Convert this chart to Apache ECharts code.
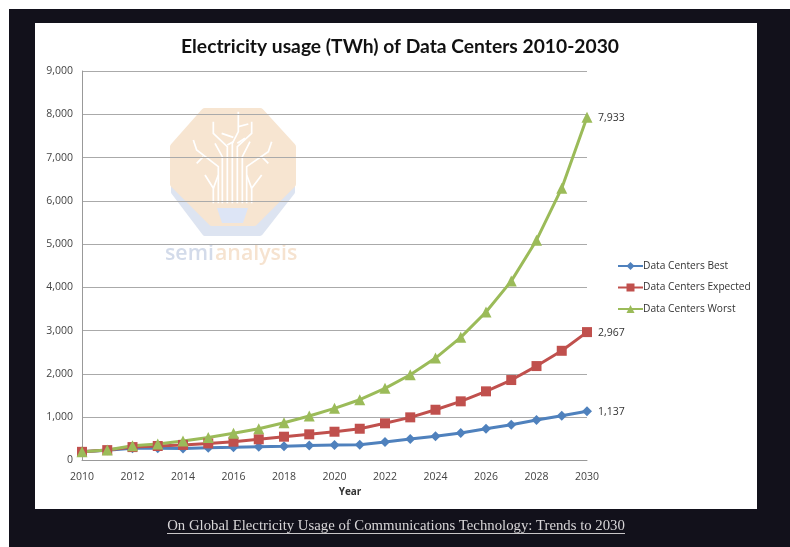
<!DOCTYPE html>
<html><head><meta charset="utf-8">
<style>html,body{margin:0;padding:0;background:#fff}#c{width:790px;height:547px}</style>
<script src="https://cdn.jsdelivr.net/npm/echarts@6/dist/echarts.min.js"></script>
</head><body><div id="c"></div>
<script>
const years = ['2010','2011','2012','2013','2014','2015','2016','2017','2018','2019','2020','2021','2022','2023','2024','2025','2026','2027','2028','2029','2030'];
const best = [200,235,285,285,280,295,305,318,328,345,358,365,427,497,558,635,734,827,935,1035,1137];
const expected = [200,240,310,335,360,395,434,490,550,605,665,734,859,997,1173,1367,1598,1859,2182,2535,2967];
const worst = [200,242,342,381,450,530,628,734,873,1028,1205,1404,1667,1982,2367,2845,3430,4145,5090,6293,7933];
const fontUI = '"Open Sans","DejaVu Sans",sans-serif';
function mk(name, data, color, symbol, size){
  return {name, type:'line', data, symbol, symbolSize:size, z:5,
    lineStyle:{color, width:3}, itemStyle:{color},
    label:{show:false},
    endLabel:{show:true, color:'#333', fontFamily:fontUI, fontSize:10.5, offset:[3,1],
      formatter:p=>p.value.toLocaleString('en-US')}};
}
// watermark artwork, in the coordinates of a 3x crop around the logo
const treeZ = [
 [[247,310],[247,130],[265,95],[265,35]],[[232,310],[232,140],[190,100],[190,65]],
 [[262,310],[262,140],[305,100],[305,65]],[[217,310],[217,170],[195,130]],
 [[277,310],[277,170],[300,125]],[[205,310],[205,200],[140,150],[130,120]],
 [[290,310],[290,200],[355,155],[365,125]],[[190,310],[190,265],[165,225]],
 [[305,310],[305,265],[335,225]],[[190,265],[205,225]],[[305,265],[290,225]],
 [[215,100],[250,112]],[[265,80],[295,72]],[[160,170],[140,190]],[[335,170],[355,190]],
 [[232,135],[250,125]],[[262,130],[285,115]]
];
const zp = p => [150+p[0]/3, 100+p[1]/3];
const chart = echarts.init(document.getElementById('c'), null, {renderer:'canvas'});
chart.setOption({
  animation:false,
  backgroundColor:'#ffffff',
  title:{text:'Electricity usage (TWh) of Data Centers 2010-2030', left:395, top:32, textAlign:'center',
    textStyle:{fontFamily:'Lato,"Open Sans",sans-serif', fontSize:19.25, fontWeight:700, color:'#111'}},
  grid:{left:82, right:203, top:71, bottom:86.5},
  legend:{orient:'vertical', left:612, top:256, itemGap:11.5, itemWidth:25, itemHeight:10,
    textStyle:{fontFamily:fontUI, fontSize:10.2, color:'#333', padding:[0,0,0,-5]},
    data:['Data Centers Best','Data Centers Expected','Data Centers Worst']},
  xAxis:{type:'category', data:years, boundaryGap:false, name:'Year', nameLocation:'middle', nameGap:22,
    nameTextStyle:{fontFamily:fontUI, fontSize:10, fontWeight:'bold', color:'#333', padding:[0,0,0,31]},
    axisLine:{lineStyle:{color:'#999'}}, axisTick:{show:false},
    axisLabel:{interval:1, color:'#444', fontFamily:fontUI, fontSize:10.5, margin:11}},
  yAxis:{type:'value', min:0, max:9000, interval:1000,
    axisLine:{show:true, lineStyle:{color:'#999'}}, axisTick:{show:false},
    splitLine:{lineStyle:{color:'#aaa', width:1.2}},
    axisLabel:{color:'#444', fontFamily:fontUI, fontSize:10.5, margin:9,
      formatter:v=>v.toLocaleString('en-US')}},
  series:[mk('Data Centers Best',best,'#4f81bd','diamond',10),
          mk('Data Centers Expected',expected,'#c0504d','rect',10),
          mk('Data Centers Worst',worst,'#9bbb59','triangle',11)],
  graphic:[
    {type:'rect', z:-50, shape:{x:9,y:9,width:781,height:14}, style:{fill:'#12111b'}},
    {type:'rect', z:-50, shape:{x:9,y:509,width:781,height:38}, style:{fill:'#12111b'}},
    {type:'rect', z:-50, shape:{x:9,y:23,width:26,height:486}, style:{fill:'#12111b'}},
    {type:'rect', z:-50, shape:{x:757,y:23,width:33,height:486}, style:{fill:'#12111b'}},
    {type:'polygon', z:-10, shape:{points:[[174,192],[205,233],[260,233],[292,192],[292,175],[174,175]]}, style:{fill:'#dde4f1',stroke:'#dde4f1',lineWidth:6,lineJoin:'round'}},
    {type:'polygon', z:-9, shape:{points:[[205,112],[260,112],[292,147],[292,184],[254,222],[212,222],[174,184],[174,147]]}, style:{fill:'#f7e5d1',stroke:'#f7e5d1',lineWidth:8,lineJoin:'round'}},
    {type:'polygon', z:-8, shape:{points:[[217,208],[248,208],[243,223],[222,223]]}, style:{fill:'#dde5f6'}},
    ...treeZ.map(p=>({type:'polyline', z:-7, shape:{points:p.map(zp)}, style:{stroke:'#fff', lineWidth:1.7, fill:null}})),
    {type:'text', z:-6, style:{x:165,y:243,text:'semi',fontFamily:'"Open Sans",sans-serif',fontSize:21.3,fontWeight:600,fill:'#d3dbea'}},
    {type:'text', z:-6, style:{x:215,y:243,text:'analysis',fontFamily:'"Open Sans",sans-serif',fontSize:21.3,fontWeight:600,fill:'#f6e3d0'}},
    {type:'text', style:{x:396,y:519,text:'On Global Electricity Usage of Communications Technology: Trends to 2030',
      align:'center',fontFamily:'"Liberation Serif",serif',fontSize:14.75,fill:'#d8d6d8'}},
    {type:'rect', shape:{x:167,y:533,width:458,height:1}, style:{fill:'#c8c6c8'}}
  ]
});
</script></body></html>
